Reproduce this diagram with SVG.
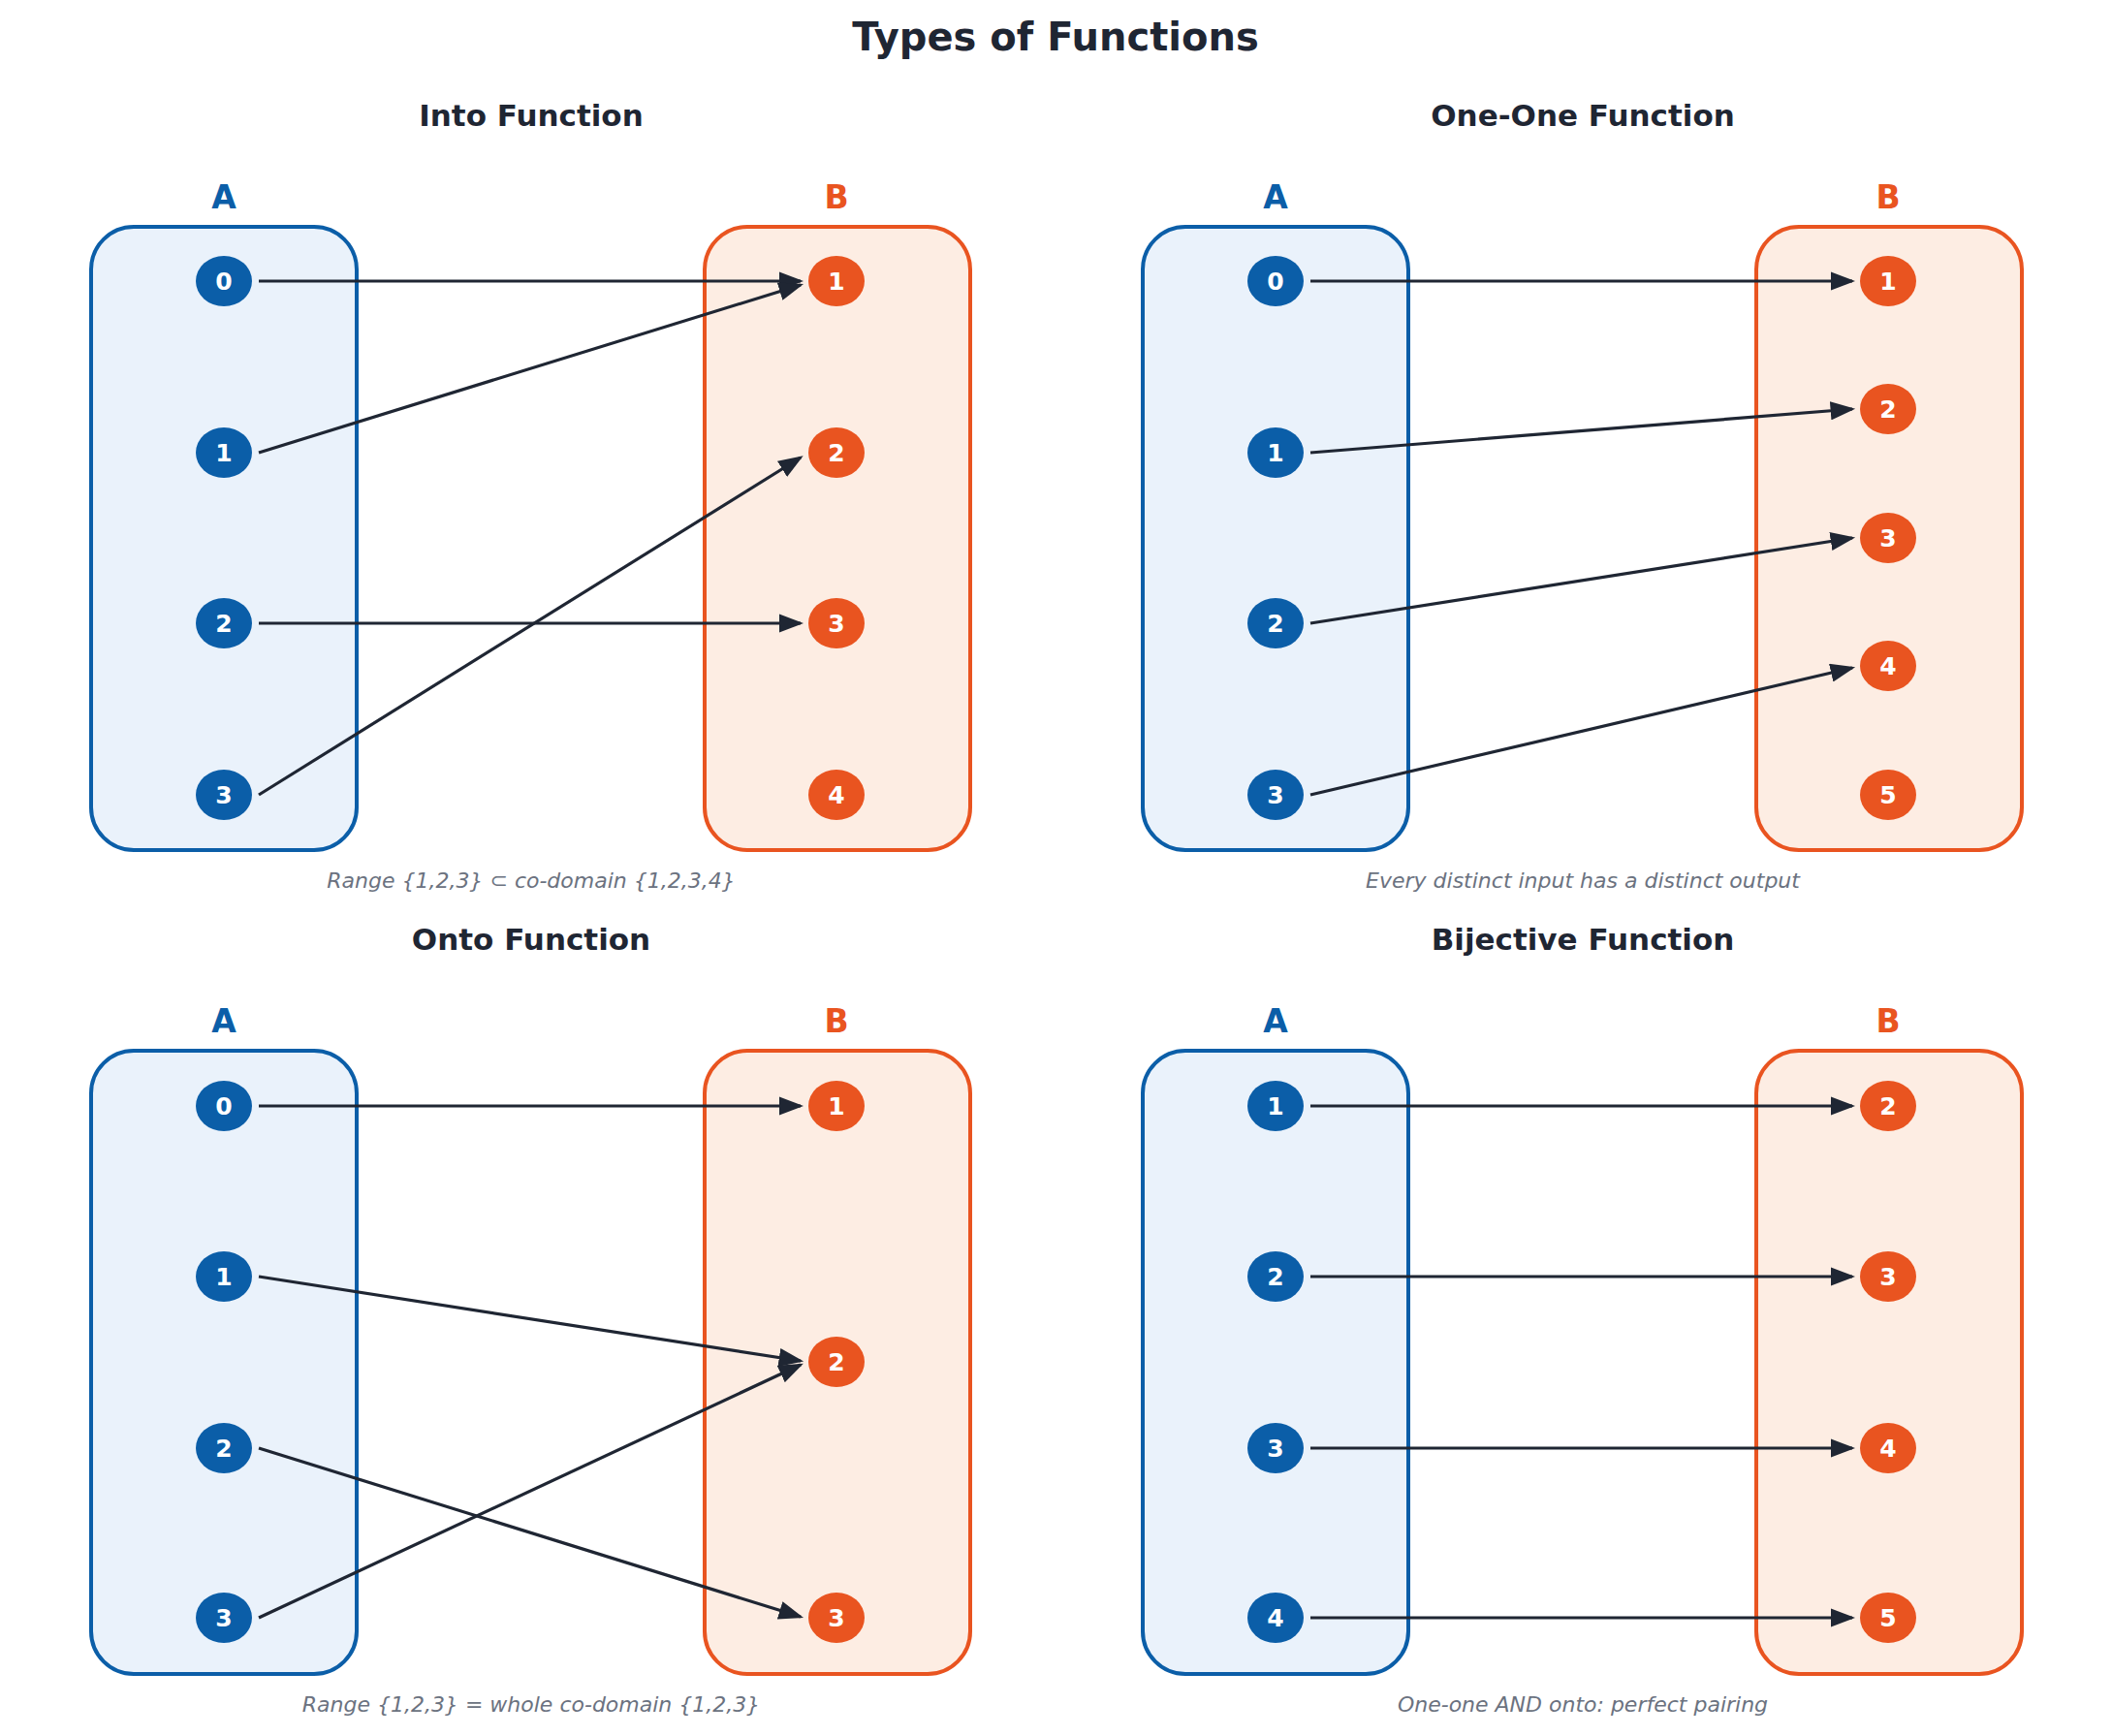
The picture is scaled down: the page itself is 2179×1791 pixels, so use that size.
<svg xmlns="http://www.w3.org/2000/svg" width="2179" height="1791" viewBox="0 0 2179 1791">
<style>
text{font-family:"DejaVu Sans","Liberation Sans",sans-serif;text-anchor:middle}
.t{font-size:40px;font-weight:bold;fill:#1f2633}
.pt{font-size:31px;font-weight:bold;fill:#1f2633}
.la{font-size:33px;font-weight:bold;fill:#0b5ea8}
.lb{font-size:33px;font-weight:bold;fill:#e95420}
.bA{fill:#eaf2fb;stroke:#0b5ea8;stroke-width:4}
.bB{fill:#fdede3;stroke:#e95420;stroke-width:4}
.nA{fill:#0b5ea8}.nB{fill:#e95420}
.nt{font-size:25px;font-weight:bold;fill:#fff}
.cap{font-size:22px;font-style:italic;fill:#6b7280}
.c line{stroke:#1f2633;stroke-width:3.2;marker-end:url(#ah)}
</style>
<defs>
<marker id="ah" markerWidth="8" markerHeight="6" refX="7" refY="3" orient="auto" markerUnits="strokeWidth"><path d="M0,0L8,3L0,6z" fill="#1f2633"/></marker>
<g id="na"><ellipse rx="29" ry="26" class="nA"/></g>
<g id="nb"><ellipse rx="29" ry="26" class="nB"/></g>
</defs>
<rect width="2179" height="1791" fill="#fff"/>
<text x="1089" y="52" class="t">Types of Functions</text>

<g id="into">
<text x="548" y="130" class="pt">Into Function</text>
<text x="231" y="215" class="la">A</text><text x="863" y="215" class="lb">B</text>
<rect x="94" y="234" width="274" height="643" rx="44" class="bA"/>
<rect x="727" y="234" width="274" height="643" rx="44" class="bB"/>
<g id="into-a"><use href="#na" x="231" y="290"/><text x="231" y="299" class="nt">0</text>
<use href="#na" x="231" y="467"/><text x="231" y="476" class="nt">1</text>
<use href="#na" x="231" y="643"/><text x="231" y="652" class="nt">2</text>
<use href="#na" x="231" y="820"/><text x="231" y="829" class="nt">3</text></g>
<g id="into-b"><use href="#nb" x="863" y="290"/><text x="863" y="299" class="nt">1</text>
<use href="#nb" x="863" y="467"/><text x="863" y="476" class="nt">2</text>
<use href="#nb" x="863" y="643"/><text x="863" y="652" class="nt">3</text>
<use href="#nb" x="863" y="820"/><text x="863" y="829" class="nt">4</text></g>
<text x="548" y="916" class="cap">Range {1,2,3} ⊂ co-domain {1,2,3,4}</text>
</g>

<g id="oneone">
<text x="1633" y="130" class="pt">One-One Function</text>
<text x="1316" y="215" class="la">A</text><text x="1948" y="215" class="lb">B</text>
<rect x="1179" y="234" width="274" height="643" rx="44" class="bA"/>
<rect x="1812" y="234" width="274" height="643" rx="44" class="bB"/>
<g id="oo-a"><use href="#na" x="1316" y="290"/><text x="1316" y="299" class="nt">0</text>
<use href="#na" x="1316" y="467"/><text x="1316" y="476" class="nt">1</text>
<use href="#na" x="1316" y="643"/><text x="1316" y="652" class="nt">2</text>
<use href="#na" x="1316" y="820"/><text x="1316" y="829" class="nt">3</text></g>
<g id="oo-b"><use href="#nb" x="1948" y="290"/><text x="1948" y="299" class="nt">1</text>
<use href="#nb" x="1948" y="422"/><text x="1948" y="431" class="nt">2</text>
<use href="#nb" x="1948" y="555"/><text x="1948" y="564" class="nt">3</text>
<use href="#nb" x="1948" y="687"/><text x="1948" y="696" class="nt">4</text>
<use href="#nb" x="1948" y="820"/><text x="1948" y="829" class="nt">5</text></g>
<text x="1633" y="916" class="cap">Every distinct input has a distinct output</text>
</g>

<g id="onto">
<text x="548" y="980" class="pt">Onto Function</text>
<text x="231" y="1065" class="la">A</text><text x="863" y="1065" class="lb">B</text>
<rect x="94" y="1084" width="274" height="643" rx="44" class="bA"/>
<rect x="727" y="1084" width="274" height="643" rx="44" class="bB"/>
<g id="on-a"><use href="#na" x="231" y="1141"/><text x="231" y="1150" class="nt">0</text>
<use href="#na" x="231" y="1317"/><text x="231" y="1326" class="nt">1</text>
<use href="#na" x="231" y="1494"/><text x="231" y="1503" class="nt">2</text>
<use href="#na" x="231" y="1669"/><text x="231" y="1678" class="nt">3</text></g>
<g id="on-b"><use href="#nb" x="863" y="1141"/><text x="863" y="1150" class="nt">1</text>
<use href="#nb" x="863" y="1405"/><text x="863" y="1414" class="nt">2</text>
<use href="#nb" x="863" y="1669"/><text x="863" y="1678" class="nt">3</text></g>
<text x="548" y="1766" class="cap">Range {1,2,3} = whole co-domain {1,2,3}</text>
</g>

<g id="bij">
<text x="1633" y="980" class="pt">Bijective Function</text>
<text x="1316" y="1065" class="la">A</text><text x="1948" y="1065" class="lb">B</text>
<rect x="1179" y="1084" width="274" height="643" rx="44" class="bA"/>
<rect x="1812" y="1084" width="274" height="643" rx="44" class="bB"/>
<g id="bi-a"><use href="#na" x="1316" y="1141"/><text x="1316" y="1150" class="nt">1</text>
<use href="#na" x="1316" y="1317"/><text x="1316" y="1326" class="nt">2</text>
<use href="#na" x="1316" y="1494"/><text x="1316" y="1503" class="nt">3</text>
<use href="#na" x="1316" y="1669"/><text x="1316" y="1678" class="nt">4</text></g>
<g id="bi-b"><use href="#nb" x="1948" y="1141"/><text x="1948" y="1150" class="nt">2</text>
<use href="#nb" x="1948" y="1317"/><text x="1948" y="1326" class="nt">3</text>
<use href="#nb" x="1948" y="1494"/><text x="1948" y="1503" class="nt">4</text>
<use href="#nb" x="1948" y="1669"/><text x="1948" y="1678" class="nt">5</text></g>
<text x="1633" y="1766" class="cap">One-one AND onto: perfect pairing</text>
</g>

<g id="connectors" class="c">
<line x1="267" y1="290" x2="826" y2="290"/>
<line x1="267" y1="467" x2="826" y2="294"/>
<line x1="267" y1="643" x2="826" y2="643"/>
<line x1="267" y1="820" x2="826" y2="472"/>
<line x1="1352" y1="290" x2="1911" y2="290"/>
<line x1="1352" y1="467" x2="1911" y2="422"/>
<line x1="1352" y1="643" x2="1911" y2="555"/>
<line x1="1352" y1="820" x2="1911" y2="689"/>
<line x1="267" y1="1141" x2="826" y2="1141"/>
<line x1="267" y1="1317" x2="826" y2="1404"/>
<line x1="267" y1="1494" x2="826" y2="1668"/>
<line x1="267" y1="1669" x2="826" y2="1408"/>
<line x1="1352" y1="1141" x2="1911" y2="1141"/>
<line x1="1352" y1="1317" x2="1911" y2="1317"/>
<line x1="1352" y1="1494" x2="1911" y2="1494"/>
<line x1="1352" y1="1669" x2="1911" y2="1669"/>
</g>
</svg>
